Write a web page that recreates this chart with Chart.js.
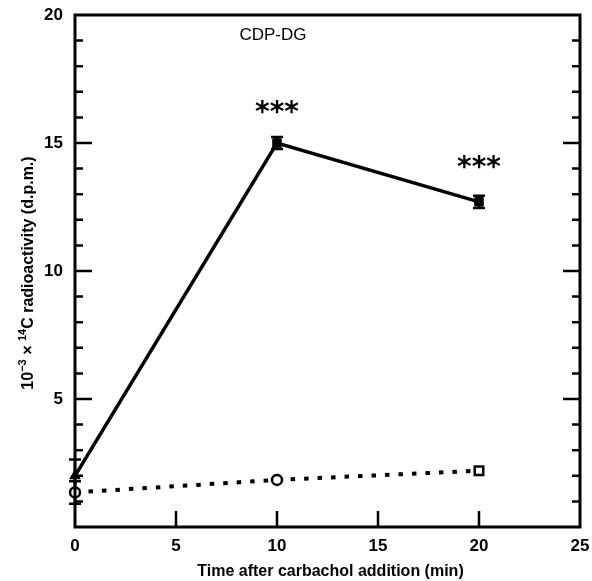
<!DOCTYPE html>
<html>
<head>
<meta charset="utf-8">
<script src="https://cdn.jsdelivr.net/npm/chart.js@4"></script>
<style>
  html, body { margin: 0; padding: 0; background: #fff; }
  #wrap { width: 592px; height: 581px; }
</style>
</head>
<body>
<div id="wrap"><canvas id="c" width="592" height="581"></canvas></div>
<script>
// ---- data ----
const timeMin = [0, 10, 20];
const carbachol = [2.0, 15.0, 12.7];
const carbacholErr = [0.6, 0.2, 0.2];
const control = [1.35, 1.84, 2.2];
const controlErr = [0.4, 0, 0];
const xTickValues = [0, 5, 10, 15, 20, 25];
const yTickValues = [5, 10, 15, 20];
const panelLabel = 'CDP-DG';
const sigMarks = ['***', '***'];
const sigTimes = [10, 20];
const sigLevels = [16.35, 14.2];
const xTitle = 'Time after carbachol addition (min)';
// y title pieces: [text, superscript?]
const yTitleParts = [['10', false], ['\u22123', true], [' \u00D7 ', false], ['14', true], ['C radioactivity (d.p.m.)', false]];

const FONT = '"Liberation Sans", Arial, sans-serif';

function pts(xs, ys) { return xs.map((x, i) => ({ x: x, y: ys[i] })); }

function drawRich(ctx, parts, cx, cy, size) {
  const big = 'bold ' + size + 'px ' + FONT;
  const small = 'bold ' + Math.round(size * 0.68) + 'px ' + FONT;
  let total = 0;
  const widths = parts.map(([t, sup]) => { ctx.font = sup ? small : big; const w = ctx.measureText(t).width; total += w; return w; });
  let x = cx - total / 2;
  ctx.textAlign = 'left';
  parts.forEach(([t, sup], i) => {
    ctx.font = sup ? small : big;
    ctx.fillText(t, x, sup ? cy - size * 0.38 : cy);
    x += widths[i];
  });
}

const decorPlugin = {
  id: 'decor',
  beforeDatasetsDraw(chart) {
    const ctx = chart.ctx;
    const xs = chart.scales.x, ys = chart.scales.y;
    ctx.save();
    const errSets = [[carbachol, carbacholErr], [control, controlErr]];
    ctx.strokeStyle = '#000';
    ctx.lineWidth = 2.5;
    errSets.forEach(([vals, errs]) => {
      vals.forEach((v, i) => {
        if (!errs[i]) return;
        const px = xs.getPixelForValue(timeMin[i]);
        const y1 = ys.getPixelForValue(v + errs[i]) - 1;
        const y2 = ys.getPixelForValue(v - errs[i]) + 1;
        ctx.beginPath();
        ctx.moveTo(px, y1); ctx.lineTo(px, y2);
        ctx.moveTo(px - 6, y1); ctx.lineTo(px + 6, y1);
        ctx.moveTo(px - 6, y2); ctx.lineTo(px + 6, y2);
        ctx.stroke();
      });
    });
    ctx.restore();
  },
  afterDraw(chart) {
    const ctx = chart.ctx;
    const xs = chart.scales.x, ys = chart.scales.y;
    const a = chart.chartArea;
    ctx.save();
    ctx.strokeStyle = '#000';
    ctx.lineWidth = 3;
    ctx.strokeRect(a.left, a.top, a.right - a.left, a.bottom - a.top);
    ctx.lineWidth = 2.5;
    ctx.beginPath();
    for (let v = 1; v < 20; v++) {
      const py = ys.getPixelForValue(v);
      const len = (v % 5 === 0) ? 17 : 8;
      ctx.moveTo(a.left, py); ctx.lineTo(a.left + len, py);
      ctx.moveTo(a.right, py); ctx.lineTo(a.right - len, py);
    }
    [5, 10, 15, 20].forEach(v => {
      const px = xs.getPixelForValue(v);
      ctx.moveTo(px, a.bottom); ctx.lineTo(px, a.bottom - 16);
    });
    ctx.stroke();

    ctx.fillStyle = '#000';
    ctx.textAlign = 'center';
    ctx.textBaseline = 'middle';
    ctx.font = '17px ' + FONT;
    ctx.fillText(panelLabel, xs.getPixelForValue(9.8), ys.getPixelForValue(19.2));
    ctx.font = 'bold 28px "DejaVu Sans", sans-serif';
    sigMarks.forEach((m, i) => {
      ctx.fillText(m, xs.getPixelForValue(sigTimes[i]), ys.getPixelForValue(sigLevels[i]) + 5);
    });
    ctx.font = 'bold 16px ' + FONT;
    ctx.fillText(xTitle, (a.left + a.right) / 2 + 3, 572);
    ctx.save();
    ctx.translate(29, 273);
    ctx.rotate(-Math.PI / 2);
    drawRich(ctx, yTitleParts, 0, 0, 16);
    ctx.restore();
    ctx.restore();
  }
};

new Chart(document.getElementById('c'), {
  type: 'scatter',
  data: {
    datasets: [
      {
        label: 'Carbachol',
        data: pts(timeMin, carbachol),
        showLine: true,
        clip: false,
        borderColor: '#000',
        borderWidth: 3.5,
        pointStyle: ['triangle', 'rect', 'rect'],
        pointRadius: [6, 6, 6],
        pointBackgroundColor: '#000',
        pointBorderColor: '#000',
        pointBorderWidth: 1,
        order: 1
      },
      {
        label: 'Control',
        data: pts(timeMin, control),
        showLine: true,
        clip: false,
        borderColor: '#000',
        borderWidth: 4,
        borderDash: [4.5, 9],
        pointStyle: ['circle', 'circle', 'rect'],
        pointRadius: [5, 5, 6],
        pointBackgroundColor: '#fff',
        pointBorderColor: '#000',
        pointBorderWidth: 2.5,
        order: 2
      }
    ]
  },
  options: {
    responsive: false,
    animation: false,
    events: [],
    layout: { padding: { top: 15, right: 12, left: 0, bottom: 0 } },
    plugins: { legend: { display: false }, tooltip: { enabled: false } },
    scales: {
      x: {
        type: 'linear', min: 0, max: 25,
        afterFit(s) { s.height = 54; s.paddingLeft = 0; s.paddingRight = 0; },
        afterBuildTicks(s) { s.ticks = xTickValues.map(v => ({ value: v })); },
        grid: { display: false, drawTicks: false },
        border: { display: false },
        ticks: { padding: 9, color: '#000', font: { family: FONT, size: 17, weight: 'bold' } }
      },
      y: {
        type: 'linear', min: 0, max: 20,
        afterFit(s) { s.width = 75; s.paddingTop = 0; s.paddingBottom = 0; },
        afterBuildTicks(s) { s.ticks = yTickValues.map(v => ({ value: v })); },
        grid: { display: false, drawTicks: false },
        border: { display: false },
        ticks: { padding: 12, color: '#000', font: { family: FONT, size: 17, weight: 'bold' } }
      }
    }
  },
  plugins: [decorPlugin]
});
</script>
</body>
</html>
